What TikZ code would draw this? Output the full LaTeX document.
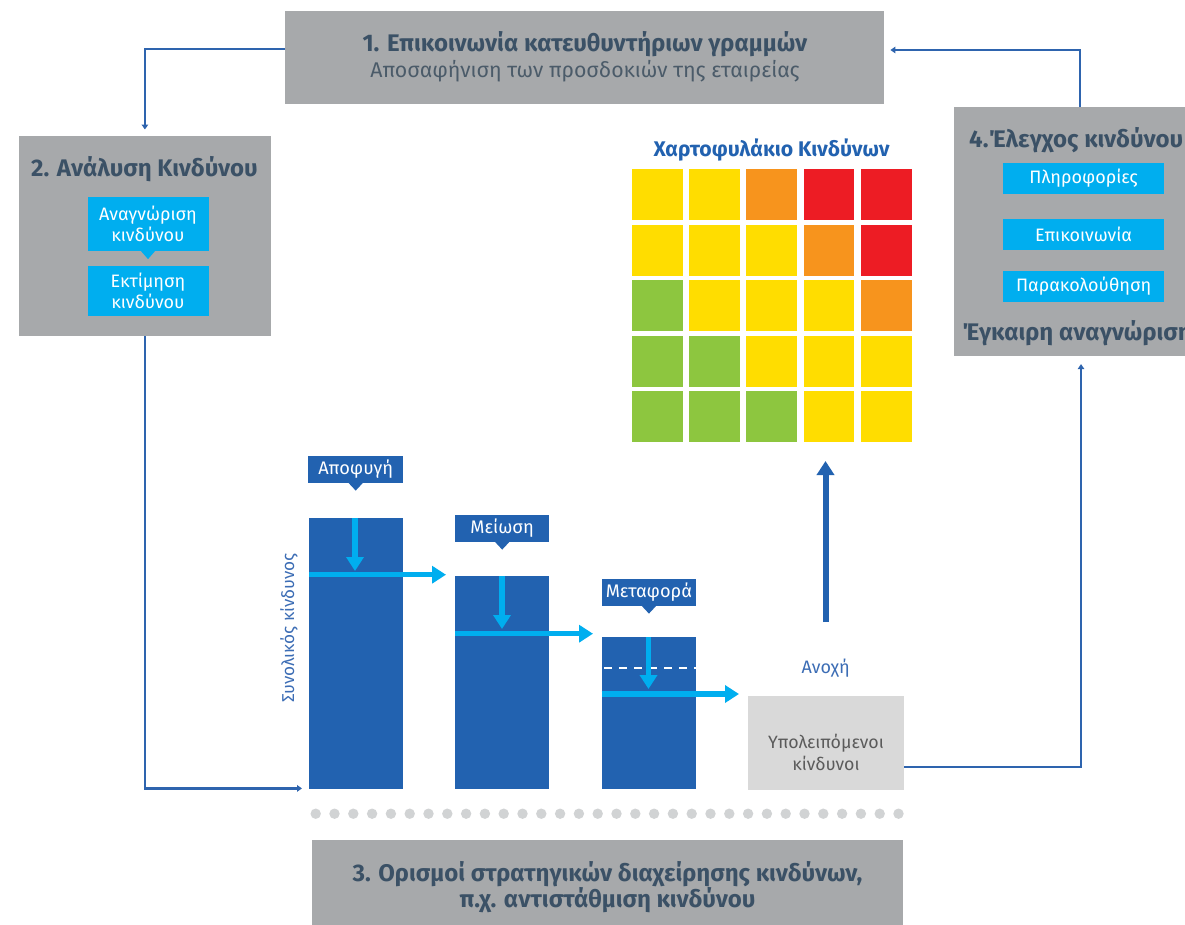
\documentclass[tikz,border=0pt]{standalone}
\usepackage{fontspec}
\setmainfont{Fira Sans}
\usetikzlibrary{arrows.meta,calc}
\definecolor{boxgray}{HTML}{A7A9AB}
\definecolor{titlec}{HTML}{3B5166}
\definecolor{subc}{HTML}{4B5B69}
\definecolor{dblue}{HTML}{2262B0}
\definecolor{cyanb}{HTML}{00AEEF}
\definecolor{lineb}{HTML}{2E64AE}
\definecolor{lblue}{HTML}{3C6DB5}
\definecolor{resgray}{HTML}{D9D9D9}
\definecolor{restext}{HTML}{5B5B5B}
\definecolor{dotgray}{HTML}{D1D3D4}
\definecolor{hmY}{HTML}{FFDD00}
\definecolor{hmO}{HTML}{F7941D}
\definecolor{hmR}{HTML}{ED1C24}
\definecolor{hmG}{HTML}{8DC63F}
\begin{document}
\begin{tikzpicture}[x=1pt,y=-1pt,
  graybox/.style={fill=boxgray, draw=none, inner sep=0, anchor=north west},
  titletext/.style={font=\fontsize{24}{25}\selectfont\bfseries, text=titlec, inner sep=0, align=center},
  subtext/.style={font=\fontsize{21.3}{24}\selectfont, text=subc, inner sep=0},
  cyanbox/.style={fill=cyanb, text=white, font=\fontsize{18}{21}\selectfont, inner sep=0, align=center, anchor=north west},
  lbl/.style={fill=dblue, text=white, font=\fontsize{18.2}{20}\selectfont, inner sep=0, anchor=north west, minimum height=26.7pt},
  bar/.style={fill=dblue, inner sep=0, anchor=north west},
  conn/.style={draw=lineb, line width=2.2pt, -{Triangle[width=6.5pt,length=5pt]}},
  carrow/.style={draw=cyanb, line width=5.5pt, -{Triangle[width=17pt,length=14pt]}},
  ]
\useasboundingbox (0,0) rectangle (1185,924);
\fill[white] (0,0) rectangle (1185,924);

% box 1
\node[graybox, minimum width=599pt, minimum height=92.3pt] (b1) at (285,11) {};
\node[titletext] (b1t) at (585,44) {1. Επικοινωνία κατευθυντήριων γραμμών};
\node[subtext] (b1s) at (585,71) {Αποσαφήνιση των προσδοκιών της εταιρείας};

% box 2
\node[graybox, minimum width=252.6pt, minimum height=199.7pt] (b2) at (18.4,136) {};
\node[titletext] (b2t) at (144.5,169.5) {2. Ανάλυση Κινδύνου};
\node[cyanbox, minimum width=121pt, minimum height=53.7pt] (c1) at (87.3,197) {Αναγνώριση\\κινδύνου};
\fill[cyanb] ($(c1.south)+(-7,0)$) -- ($(c1.south)+(7,0)$) -- ($(c1.south)+(0,8)$) -- cycle;
\node[cyanbox, minimum width=121pt, minimum height=49.7pt] (c2) at (87.3,266) {Εκτίμηση\\κινδύνου};

% box 4
\node[graybox, minimum width=260pt, minimum height=248.7pt] (b4) at (953.7,107) {};
\node[titletext, anchor=west] (b4t) at (969,140) {4.Έλεγχος κινδύνου};
\node[cyanbox, minimum width=160.8pt, minimum height=30.7pt] (c3) at (1003,163) {Πληροφορίες};
\node[cyanbox, minimum width=160.8pt, minimum height=30.7pt] (c4) at (1003,219) {Επικοινωνία};
\node[cyanbox, minimum width=160.8pt, minimum height=30.7pt] (c5) at (1003,271) {Παρακολούθηση};
\node[titletext, anchor=west] (b4b) at (962,333) {Έγκαιρη αναγνώριση};

% box 3
\node[graybox, minimum width=591pt, minimum height=90pt] (b3) at (312,839.3) {};
\node[titletext] (b3t) at (607.5,887) {3. Ορισμοί στρατηγικών διαχείρησης κινδύνων,\\π.χ. αντιστάθμιση κινδύνου};

% heat map
\node[font=\fontsize{21.2}{24}\selectfont\bfseries, text=dblue, inner sep=0] (hmt) at (771.5,150) {Χαρτοφυλάκιο Κινδύνων};
\foreach \c [count=\i from 0] in {Y,Y,O,R,R,Y,Y,Y,O,R,G,Y,Y,Y,O,G,G,Y,Y,Y,G,G,G,Y,Y}{
  \pgfmathtruncatemacro\col{mod(\i,5)}
  \pgfmathtruncatemacro\row{div(\i,5)}
  \fill[hm\c] ({632+57.2*\col},{169+55.6*\row}) rectangle ++(50.8,51);
}

% bars
\node[bar, minimum width=94pt, minimum height=271pt] (bar1) at (309,518) {};
\node[bar, minimum width=94pt, minimum height=213pt] (bar2) at (455,576) {};
\node[bar, minimum width=93.8pt, minimum height=152pt] (bar3) at (601.7,637) {};
\node[fill=resgray, inner sep=0, anchor=north west, minimum width=156pt, minimum height=93.7pt] (res) at (748,696) {};
\node[font=\fontsize{17.8}{21.5}\selectfont, text=restext, align=center, inner sep=0] (rest) at (826,752.5) {Υπολειπόμενοι\\κίνδυνοι};
\node[font=\fontsize{18}{20}\selectfont, text=lblue, inner sep=0] (anoxi) at (825.7,668) {Ανοχή};
\node[font=\fontsize{17.2}{20}\selectfont, text=lblue, inner sep=0, rotate=90] (total) at (289,628) {Συνολικός κίνδυνος};

% labels
\node[lbl, minimum width=95pt] (l1) at (308,456) {Αποφυγή};
\fill[dblue] ($(l1.south)+(-7,0)$) -- ($(l1.south)+(7,0)$) -- ($(l1.south)+(0,7.5)$) -- cycle;
\node[lbl, minimum width=94pt] (l2) at (455,515) {Μείωση};
\fill[dblue] ($(l2.south)+(-7,0)$) -- ($(l2.south)+(7,0)$) -- ($(l2.south)+(0,7.5)$) -- cycle;
\node[lbl, minimum width=93.5pt] (l3) at (602,579) {Μεταφορά};
\fill[dblue] ($(l3.south)+(-7,0)$) -- ($(l3.south)+(7,0)$) -- ($(l3.south)+(0,7.5)$) -- cycle;

% cyan arrows in bars
\draw[carrow] (355,518) -- (355,571);
\draw[carrow] (309,574.7) -- (446,574.7);
\draw[carrow] (502,576) -- (502,629);
\draw[carrow] (455,633.7) -- (593,633.7);
\draw[white, line width=2.5pt, dash pattern=on 8pt off 7pt] (604,668) -- (695.5,668);
\draw[carrow] (648.5,637) -- (648.5,689);
\draw[carrow] (601.7,694) -- (739,694);

% tolerance arrow
\coordinate (va1) at (825.5,622);
\coordinate (va2) at (825.5,461);
\draw[dblue, line width=6pt, -{Triangle[width=17pt,length=14pt]}] (va1) -- (va2);

% dots
\foreach \k in {0,...,31} \fill[dotgray] ({315.7+\k*18.8},813.7) circle (5.2pt);

% connectors
\draw[conn] ($(b1.north west)+(0,38)$) -| ($(b2.north)+(0,-6.5)$);
\draw[conn] (b2.south) |- ($(bar1.south west)+(-7,-1)$);
\draw[conn] ($(b4.north west)+(126.3,0)$) |- ($(b1.north east)+(6,39)$);
\draw[conn] ($(res.north east)+(0,71)$) -| ($(b4.south west)+(127.3,8)$);
\end{tikzpicture}
\end{document}
